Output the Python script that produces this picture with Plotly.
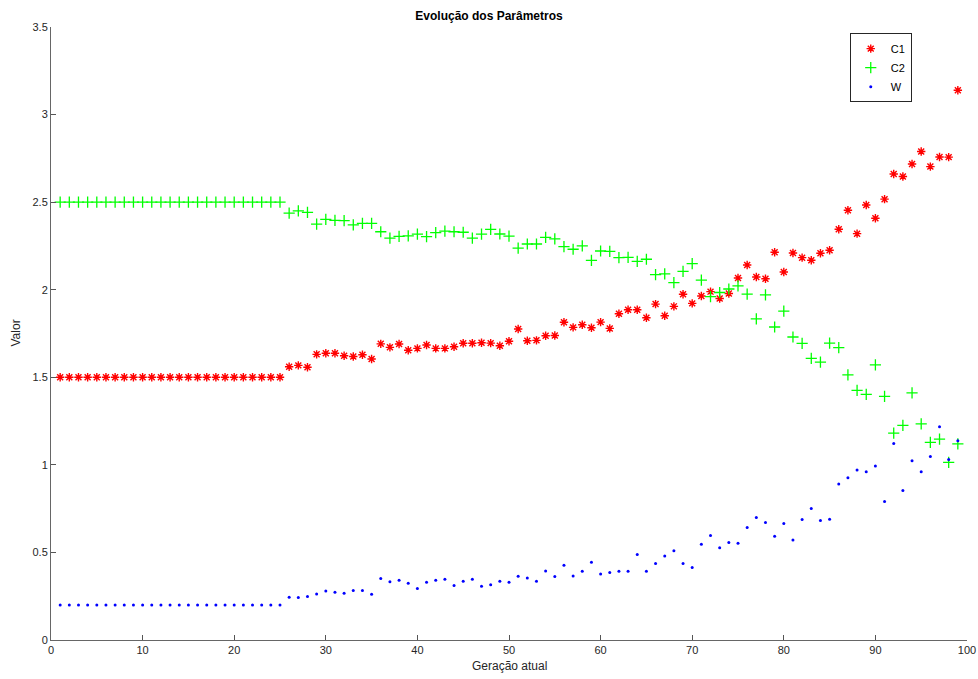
import plotly.graph_objects as go

geracao = list(range(1, 100))

c1 = [1.5] * 25 + [
    1.56, 1.568, 1.557, 1.631, 1.637, 1.637, 1.623, 1.619, 1.629, 1.604,
    1.691, 1.671, 1.69, 1.654, 1.665, 1.684, 1.665, 1.665, 1.674, 1.694,
    1.694, 1.697, 1.695, 1.68, 1.706, 1.776, 1.709, 1.711, 1.737, 1.739,
    1.814, 1.785, 1.8, 1.783, 1.815, 1.779, 1.863, 1.886, 1.886, 1.84,
    1.918, 1.851, 1.905, 1.974, 1.922, 1.964, 1.989, 1.95, 1.978, 2.067,
    2.141, 2.073, 2.063, 2.214, 2.101, 2.21, 2.183, 2.168, 2.208, 2.225,
    2.345, 2.454, 2.32, 2.484, 2.408, 2.517, 2.661, 2.646, 2.718, 2.789,
    2.703, 2.758, 2.757, 3.139]

c2 = [2.5] * 25 + [
    2.437, 2.45, 2.442, 2.374, 2.402, 2.396, 2.394, 2.37, 2.379, 2.379,
    2.331, 2.295, 2.305, 2.307, 2.317, 2.303, 2.326, 2.334, 2.331, 2.328,
    2.294, 2.317, 2.345, 2.318, 2.306, 2.237, 2.261, 2.261, 2.299, 2.29,
    2.246, 2.231, 2.25, 2.168, 2.221, 2.219, 2.183, 2.185, 2.162, 2.174,
    2.086, 2.09, 2.04, 2.105, 2.149, 2.055, 1.96, 1.984, 2.004, 2.022,
    1.975, 1.834, 1.97, 1.787, 1.878, 1.73, 1.694, 1.608, 1.587, 1.695,
    1.669, 1.514, 1.425, 1.402, 1.571, 1.391, 1.181, 1.225, 1.411, 1.234,
    1.128, 1.147, 1.014, 1.12]

w = [0.2] * 25 + [
    0.244, 0.242, 0.248, 0.263, 0.28, 0.273, 0.267, 0.282, 0.282, 0.261,
    0.351, 0.332, 0.341, 0.324, 0.294, 0.33, 0.341, 0.347, 0.311, 0.335,
    0.347, 0.307, 0.316, 0.335, 0.33, 0.364, 0.354, 0.335, 0.394, 0.362,
    0.427, 0.366, 0.393, 0.444, 0.377, 0.385, 0.393, 0.393, 0.488, 0.393,
    0.437, 0.48, 0.509, 0.437, 0.414, 0.547, 0.597, 0.526, 0.557, 0.553,
    0.642, 0.699, 0.671, 0.593, 0.665, 0.571, 0.688, 0.751, 0.682, 0.69,
    0.89, 0.926, 0.971, 0.96, 0.994, 0.791, 1.122, 0.854, 1.023, 0.96,
    1.048, 1.217, 1.031, 1.137]

x_ticks = [0, 10, 20, 30, 40, 50, 60, 70, 80, 90, 100]
y_ticks = [0, 0.5, 1, 1.5, 2, 2.5, 3, 3.5]
y_tick_text = ["0", "0.5", "1", "1.5", "2", "2.5", "3", "3.5"]

FONT = "Liberation Sans, Arial, sans-serif"

fig = go.Figure()
fig.add_trace(go.Scatter(
    x=geracao, y=c1, mode="markers", name="C1",
    marker=dict(symbol="asterisk-open", size=7, color="#ff0000",
                line=dict(color="#ff0000", width=1.4))))
fig.add_trace(go.Scatter(
    x=geracao, y=c2, mode="markers", name="C2",
    marker=dict(symbol="cross-thin-open", size=8, color="#00ff00",
                line=dict(color="#00ff00", width=1.3))))
fig.add_trace(go.Scatter(
    x=geracao, y=w, mode="markers", name="W",
    marker=dict(symbol="circle", size=3, color="#0000ff",
                line=dict(width=0))))

axis_common = dict(
    showgrid=False, zeroline=False, showline=True, linecolor="#666666",
    linewidth=1, mirror=False, ticks="inside", ticklen=5, automargin=False,
    tickcolor="#555555", tickfont=dict(family=FONT, size=11, color="#262626"),
)

fig.update_layout(
    width=978, height=679,
    paper_bgcolor="white", plot_bgcolor="white",
    margin=dict(l=51, r=11, t=27, b=39),
    title=dict(text="<b>Evolução dos Parâmetros</b>", x=0.5, xanchor="center",
               y=0.977, yanchor="middle",
               font=dict(family=FONT, size=12, color="#000000")),
    xaxis=dict(range=[0, 100], tickvals=x_ticks, **axis_common),
    yaxis=dict(range=[0, 3.5], tickvals=y_ticks, ticktext=y_tick_text,
               **axis_common),
    legend=dict(x=0.872, y=0.99, xanchor="left", yanchor="top",
                bgcolor="white", bordercolor="#262626", borderwidth=1,
                font=dict(family=FONT, size=11, color="#000000"),
                itemwidth=30, tracegroupgap=0),
    showlegend=True,
    annotations=[
        dict(text="Geração atual", xref="paper", yref="paper", x=0.5, y=0,
             xanchor="center", yanchor="middle", yshift=-26, showarrow=False,
             font=dict(family=FONT, size=12, color="#262626")),
        dict(text="Valor", xref="paper", yref="paper", x=0, y=0.5,
             xanchor="center", yanchor="middle", xshift=-36, textangle=-90,
             showarrow=False,
             font=dict(family=FONT, size=12, color="#262626")),
    ],
)

fig.write_html("out.html")
